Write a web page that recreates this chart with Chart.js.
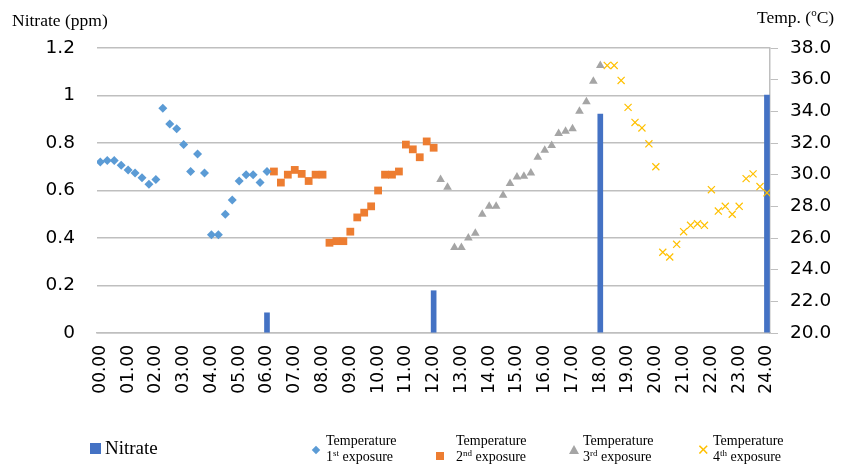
<!DOCTYPE html>
<html>
<head>
<meta charset="utf-8">
<script src="https://cdn.jsdelivr.net/npm/chart.js@4"></script>
<style>
  body { margin: 0; background: #fff; }
  #wrap { position: relative; width: 841px; height: 471px; font-family: "Liberation Serif", "Times New Roman", serif; color: #000; }
  #myChart { position: absolute; left: 0; top: 0; }
  .txt { position: absolute; white-space: nowrap; }
  .leg { position: absolute; font-size: 14px; line-height: 16px; white-space: nowrap; }
  .leg sup { font-size: 9px; vertical-align: 5px; line-height: 0; }
  .mk { position: absolute; }
</style>
</head>
<body>
<div id="wrap">
  <canvas id="myChart" width="841" height="471"></canvas>
  <div class="txt" style="left:12px;top:10px;font-size:17.5px;">Nitrate (ppm)</div>
  <div class="txt" style="left:757px;top:6px;font-size:17.5px;">Temp. (<sup style="font-size:11px">o</sup>C)</div>

  <div class="mk" style="left:90px;top:443px;width:11px;height:11px;background:#4472C4;"></div>
  <div class="txt" style="left:105px;top:437px;font-size:19px;">Nitrate</div>

  <div class="mk" style="left:313px;top:447px;width:6px;height:6px;background:#5B9BD5;transform:rotate(45deg);"></div>
  <div class="leg" style="left:326px;top:433px;">Temperature<br>1<sup>st</sup> exposure</div>

  <div class="mk" style="left:436px;top:452px;width:8px;height:8px;background:#ED7D31;"></div>
  <div class="leg" style="left:456px;top:433px;">Temperature<br>2<sup>nd</sup> exposure</div>

  <div class="mk" style="left:569px;top:445px;width:0;height:0;border-left:5px solid transparent;border-right:5px solid transparent;border-bottom:9px solid #A5A5A5;"></div>
  <div class="leg" style="left:583px;top:433px;">Temperature<br>3<sup>rd</sup> exposure</div>

  <div class="mk" style="left:697px;top:441px;font-size:15px;color:#FFC000;font-family:'DejaVu Sans';">&#x2715;</div>
  <div class="leg" style="left:713px;top:433px;">Temperature<br>4<sup>th</sup> exposure</div>
</div>
<script>
const hourLabels = ["00.00", "01.00", "02.00", "03.00", "04.00", "05.00", "06.00", "07.00", "08.00",
  "09.00", "10.00", "11.00", "12.00", "13.00", "14.00", "15.00", "16.00", "17.00", "18.00",
  "19.00", "20.00", "21.00", "22.00", "23.00", "24.00"];

// nitrate sampled every 6 hours
const nitrateHours = [6, 12, 18, 24];
const nitrate = [0.085, 0.178, 0.922, 1.002];

// temperature every 15 min, each exposure starts at its own hour
const temp1Start = 0;
const temp1 = [30.8, 30.9, 30.9, 30.6, 30.3, 30.1, 29.8, 29.4, 29.7, 34.2, 33.2, 32.9, 31.9,
  30.2, 31.3, 30.1, 26.2, 26.2, 27.5, 28.4, 29.6, 30.0, 30.0, 29.5, 30.2];
const temp2Start = 6.25;
const temp2 = [30.2, 29.5, 30.0, 30.3, 30.05, 29.6, 30.0, 30.0, 25.7, 25.8, 25.8, 26.4,
  27.3, 27.6, 28.0, 29.0, 30.0, 30.0, 30.2, 31.9, 31.6, 31.1, 32.1, 31.7];
const temp3Start = 12.25;
const temp3 = [29.7, 29.2, 25.4, 25.4, 26.0, 26.3, 27.5, 28.0, 28.0, 28.7, 29.45, 29.85,
  29.9, 30.1, 31.1, 31.55, 31.85, 32.6, 32.75, 32.9, 34.0, 34.6, 35.9, 36.9];
const temp4Start = 18.25;
const temp4 = [36.9, 36.9, 35.95, 34.25, 33.3, 32.95, 31.95, 30.5, 25.1, 24.8, 25.6, 26.4,
  26.8, 26.9, 26.8, 29.05, 27.7, 28.0, 27.5, 28.0, 29.75, 30.05, 29.25, 28.85];

function toPoints(xs, ys) {
  return ys.map((v, i) => ({ x: xs[i], y: v }));
}
function fromStart(start, ys) {
  return ys.map((v, i) => ({ x: start + i * 0.25, y: v }));
}

const gridGray = "#BFBFBF";
const ctx = document.getElementById("myChart");

new Chart(ctx, {
  data: {
    datasets: [
      {
        type: "bar",
        label: "Nitrate",
        data: toPoints(nitrateHours, nitrate),
        backgroundColor: "#4472C4",
        barThickness: 5,
        yAxisID: "y",
        order: 2,
      },
      {
        type: "scatter",
        label: "Temperature 1st exposure",
        data: fromStart(temp1Start, temp1),
        pointStyle: "rectRot",
        pointRadius: 4.5,
        backgroundColor: "#5B9BD5",
        borderColor: "#5B9BD5",
        borderWidth: 0,
        yAxisID: "y2",
        order: 1,
      },
      {
        type: "scatter",
        label: "Temperature 2nd exposure",
        data: fromStart(temp2Start, temp2),
        pointStyle: "rect",
        pointRadius: 5.5,
        backgroundColor: "#ED7D31",
        borderColor: "#ED7D31",
        borderWidth: 0,
        yAxisID: "y2",
        order: 1,
      },
      {
        type: "scatter",
        label: "Temperature 3rd exposure",
        data: fromStart(temp3Start, temp3),
        pointStyle: "triangle",
        pointRadius: 5,
        backgroundColor: "#A5A5A5",
        borderColor: "#A5A5A5",
        borderWidth: 0,
        yAxisID: "y2",
        order: 1,
      },
      {
        type: "scatter",
        label: "Temperature 4th exposure",
        data: fromStart(temp4Start, temp4),
        pointStyle: "crossRot",
        pointRadius: 5,
        backgroundColor: "#FFC000",
        borderColor: "#FFC000",
        borderWidth: 1.2,
        yAxisID: "y2",
        order: 1,
      },
    ],
  },
  options: {
    responsive: false,
    devicePixelRatio: 1,
    animation: false,
    layout: { padding: { top: 48, left: 0, right: 0, bottom: 0 } },
    plugins: {
      legend: { display: false },
      tooltip: { enabled: false },
    },
    scales: {
      x: {
        type: "linear",
        offset: false,
        min: -0.12,
        max: 24.11,
        afterBuildTicks: (scale) => {
          scale.ticks = hourLabels.map((l, i) => ({ value: i }));
        },
        afterFit: (scale) => {
          scale.height = 471 - 333;
        },
        grid: { drawOnChartArea: false, drawTicks: false },
        border: { display: true, color: gridGray, width: 1.5 },
        ticks: {
          autoSkip: false,
          minRotation: 90,
          maxRotation: 90,
          padding: 12,
          color: "#000",
          font: { family: "DejaVu Sans", size: 17 },
          callback: (v, i) => hourLabels[i],
        },
      },
      y: {
        position: "left",
        min: 0,
        max: 1.2,
        afterFit: (scale) => {
          scale.width = 97;
        },
        ticks: {
          stepSize: 0.2,
          padding: 22,
          color: "#000",
          font: { family: "DejaVu Sans", size: 18.5 },
          callback: (v) => String(+v.toFixed(1)),
        },
        grid: { color: gridGray, lineWidth: 1.5, drawTicks: false },
        border: { display: false },
      },
      y2: {
        position: "right",
        min: 20,
        max: 38,
        afterFit: (scale) => {
          scale.width = 71;
        },
        ticks: {
          stepSize: 2,
          padding: 12,
          color: "#000",
          font: { family: "DejaVu Sans", size: 18.5 },
          callback: (v) => v.toFixed(1),
        },
        grid: { drawOnChartArea: false, color: gridGray, tickLength: 8 },
        border: { display: true, color: gridGray, width: 1.5 },
      },
    },
  },
});
</script>
</body>
</html>
